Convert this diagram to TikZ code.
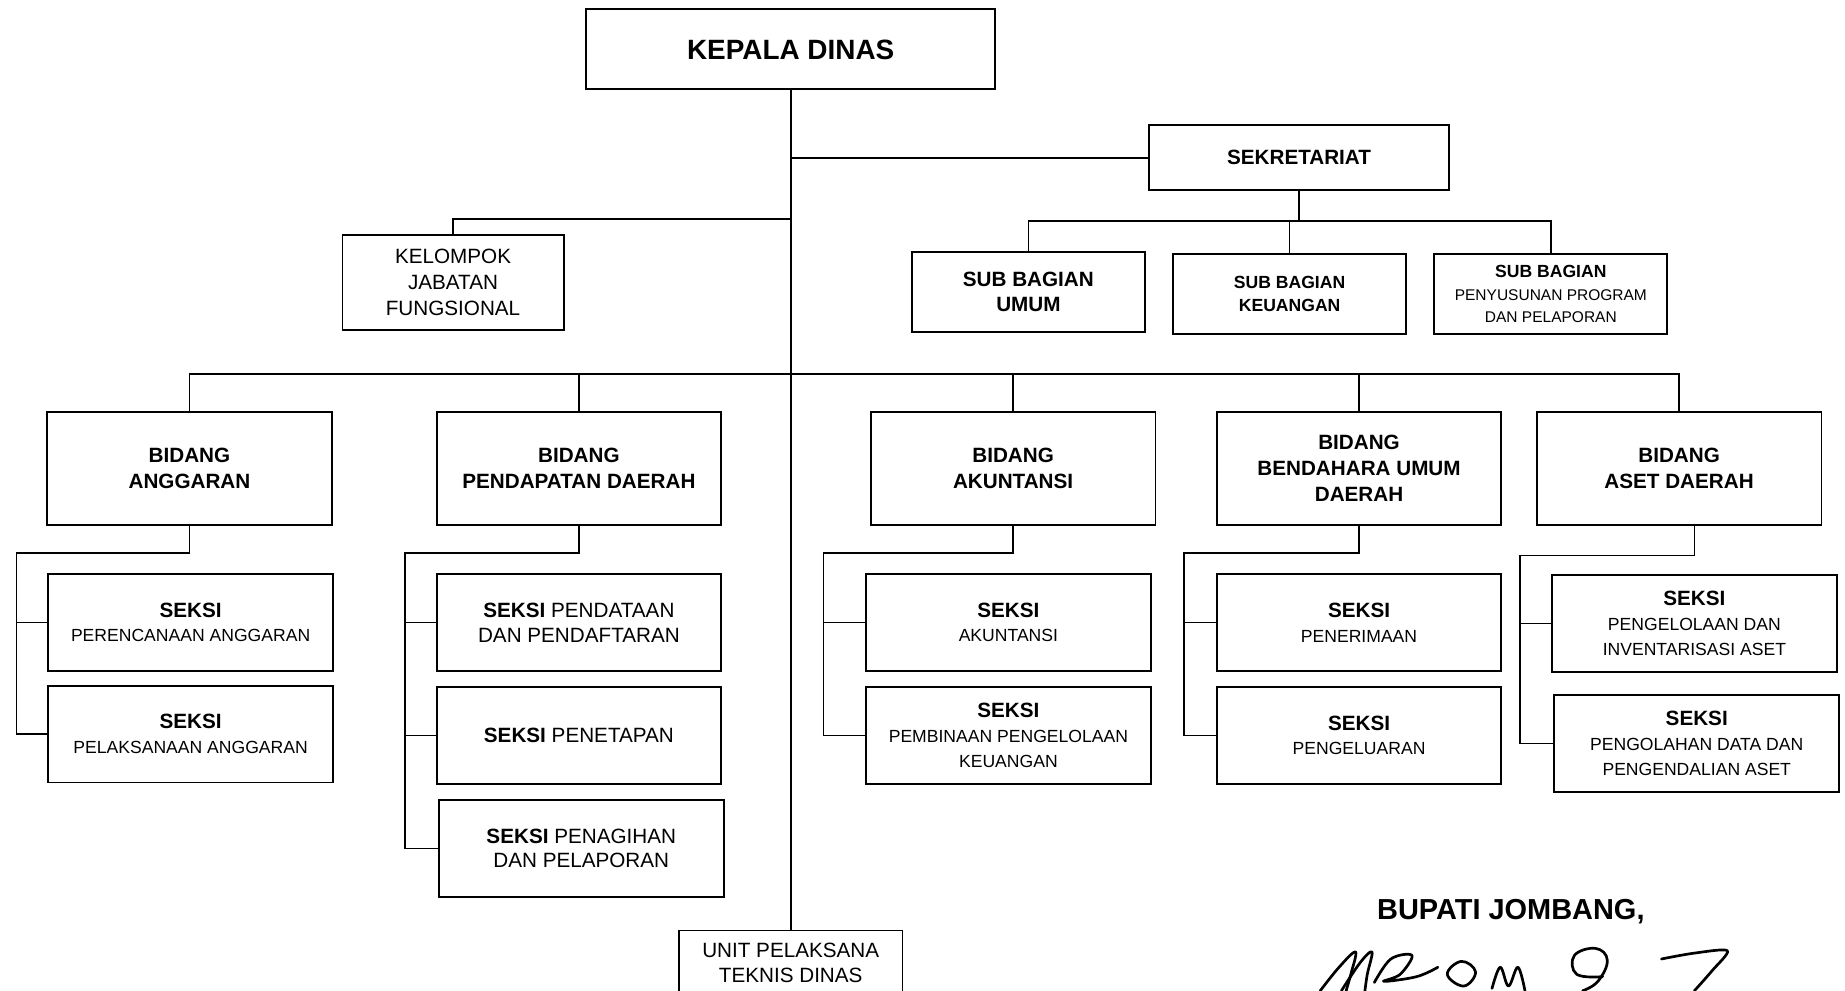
\documentclass[tikz,border=0pt]{standalone}
\usepackage{fontspec}
\setmainfont{Liberation Sans}
\usetikzlibrary{positioning,calc}

\newcommand{\kecil}{\fontsize{8.5}{11}\selectfont\mdseries}
\newcommand{\kecilsub}{\fontsize{7.5}{10}\selectfont\mdseries}

\begin{document}
\begin{tikzpicture}[x=0.02cm, y=-0.02cm,
    box/.style={draw, line width=0.9pt, align=center, inner sep=1pt},
    kepala/.style={box, minimum width=6.96cm, minimum height=1.36cm, font=\fontsize{13.5}{16}\selectfont\bfseries},
    sekre/.style={box, minimum width=5.1cm, minimum height=1.1cm, font=\fontsize{10}{12}\selectfont\bfseries},
    subbag/.style={box, minimum width=3.96cm, minimum height=1.36cm, font=\fontsize{8.5}{11}\selectfont\bfseries},
    bidang/.style={box, minimum width=4.84cm, minimum height=1.92cm, font=\fontsize{10}{12.5}\selectfont\bfseries},
    seksi/.style={box, minimum width=4.84cm, minimum height=1.64cm, font=\fontsize{10}{12}\selectfont},
    garis/.style={line width=0.8pt},
    ttd/.style={line width=1.3pt, line cap=round, line join=round}]
    \useasboundingbox (0,0) rectangle (1568,842);

    % pimpinan dan sekretariat
    \node[kepala] (kepala) at (672,42) {KEPALA DINAS};
    \node[sekre] (sekre) at (1104,134) {SEKRETARIAT};
    \node[box, minimum width=3.76cm, minimum height=1.62cm, font=\fontsize{10}{12.5}\selectfont] (jafung) at (385,240) {KELOMPOK\\JABATAN\\FUNGSIONAL};
    \node[subbag, font=\fontsize{10}{12.5}\selectfont\bfseries] (umum) at (874,248) {SUB BAGIAN\\UMUM};
    \node[subbag] (keu) at (1096,250) {SUB BAGIAN\\KEUANGAN};
    \node[subbag] (prog) at (1318,250) {SUB BAGIAN\\{\kecilsub PENYUSUNAN PROGRAM}\\{\kecilsub DAN PELAPORAN}};

    % bidang
    \node[bidang] (anggaran) at (161,398) {BIDANG\\ANGGARAN};
    \node[bidang] (pendapatan) at (492,398) {BIDANG\\PENDAPATAN DAERAH};
    \node[bidang] (akuntansi) at (861,398) {BIDANG\\AKUNTANSI};
    \node[bidang] (bud) at (1155,398) {BIDANG\\BENDAHARA UMUM\\DAERAH};
    \node[bidang] (aset) at (1427,398) {BIDANG\\ASET DAERAH};

    % seksi
    \node[seksi] (perencanaan) at (162,529) {\textbf{SEKSI}\\{\kecil PERENCANAAN ANGGARAN}};
    \node[seksi] (pelaksanaan) at (162,624) {\textbf{SEKSI}\\{\kecil PELAKSANAAN ANGGARAN}};
    \node[seksi] (pendataan) at (492,529) {\textbf{SEKSI} PENDATAAN\\DAN PENDAFTARAN};
    \node[seksi] (penetapan) at (492,625) {\textbf{SEKSI} PENETAPAN};
    \node[seksi] (penagihan) at (494,721) {\textbf{SEKSI} PENAGIHAN\\DAN PELAPORAN};
    \node[seksi] (skakun) at (857,529) {\textbf{SEKSI}\\{\kecil AKUNTANSI}};
    \node[seksi] (pembinaan) at (857,625) {\textbf{SEKSI}\\{\kecil PEMBINAAN PENGELOLAAN}\\{\kecil KEUANGAN}};
    \node[seksi] (penerimaan) at (1155,529) {\textbf{SEKSI}\\{\kecil PENERIMAAN}};
    \node[seksi] (pengeluaran) at (1155,625) {\textbf{SEKSI}\\{\kecil PENGELUARAN}};
    \node[seksi] (inventaris) at (1440,530) {\textbf{SEKSI}\\{\kecil PENGELOLAAN DAN}\\{\kecil INVENTARISASI ASET}};
    \node[seksi] (pengolahan) at (1442,632) {\textbf{SEKSI}\\{\kecil PENGOLAHAN DATA DAN}\\{\kecil PENGENDALIAN ASET}};

    \node[box, anchor=north, minimum width=3.8cm, minimum height=1.1cm, font=\fontsize{10}{12.5}\selectfont] (upt) at (672,790) {UNIT PELAKSANA\\TEKNIS DINAS};
    \node[font=\fontsize{14}{16}\selectfont\bfseries] (bupati) at (1284,775) {BUPATI JOMBANG,};

    % titik cabang
    \coordinate (jfbar) at (672,186);
    \coordinate (bidbar) at (672,318);
    \coordinate (sbbar) at (1099,188);
    \coordinate (k1) at (14,470);
    \coordinate (k2) at (344,470);
    \coordinate (k3) at (700,470);
    \coordinate (k4) at (1006,470);
    \coordinate (k5) at (1292,472);

    % garis komando
    \draw[garis] (kepala.south) -- (upt.north);
    \draw[garis] (kepala.south |- sekre.west) -- (sekre.west);
    \draw[garis] (jfbar) -| (jafung.north);
    \draw[garis] (sekre.south) -- (sekre.south |- sbbar);
    \draw[garis] (umum.north) |- (prog.north |- sbbar) -- (prog.north);
    \draw[garis] (keu.north) -- (keu.north |- sbbar);
    \draw[garis] (anggaran.north) |- (aset.north |- bidbar) -- (aset.north);
    \foreach \b in {pendapatan, akuntansi, bud}
        \draw[garis] (\b.north) -- (\b.north |- bidbar);

    \draw[garis] (anggaran.south) |- (k1) |- (pelaksanaan.west);
    \draw[garis] (pendapatan.south) |- (k2) |- (penagihan.west);
    \draw[garis] (akuntansi.south) |- (k3) |- (pembinaan.west);
    \draw[garis] (bud.south) |- (k4) |- (pengeluaran.west);
    \draw[garis] (inventaris.north |- aset.south) |- (k5) |- (pengolahan.west);
    \foreach \s/\k in {perencanaan/k1, pendataan/k2, penetapan/k2, skakun/k3, penerimaan/k4, inventaris/k5}
        \draw[garis] (\k |- \s.west) -- (\s.west);

    % tanda tangan
    \draw[ttd] plot[smooth, tension=0.6] coordinates {(1122,842) (1138,822) (1152,809) (1148,828) (1144,842)};
    \draw[ttd] plot[smooth, tension=0.6] coordinates {(1140,842) (1156,818) (1166,809) (1162,828) (1160,842)};
    \draw[ttd] plot[smooth, tension=0.6] coordinates {(1168,835) (1182,815) (1200,812) (1190,828) (1176,834) (1204,830) (1222,822)};
    \draw[ttd] plot[smooth cycle, tension=0.7] coordinates {(1230,828) (1242,817) (1254,826) (1244,838)};
    \draw[ttd] plot[smooth, tension=0.6] coordinates {(1268,840) (1275,822) (1282,838) (1290,822) (1296,842)};
    \draw[ttd] plot[smooth, tension=0.7] coordinates {(1362,830) (1340,828) (1338,812) (1356,806) (1366,816) (1358,834) (1345,842)};
    \draw[ttd] plot[smooth, tension=0.5] coordinates {(1412,815) (1440,810) (1468,808) (1455,825) (1440,842)};
\end{tikzpicture}
\end{document}
